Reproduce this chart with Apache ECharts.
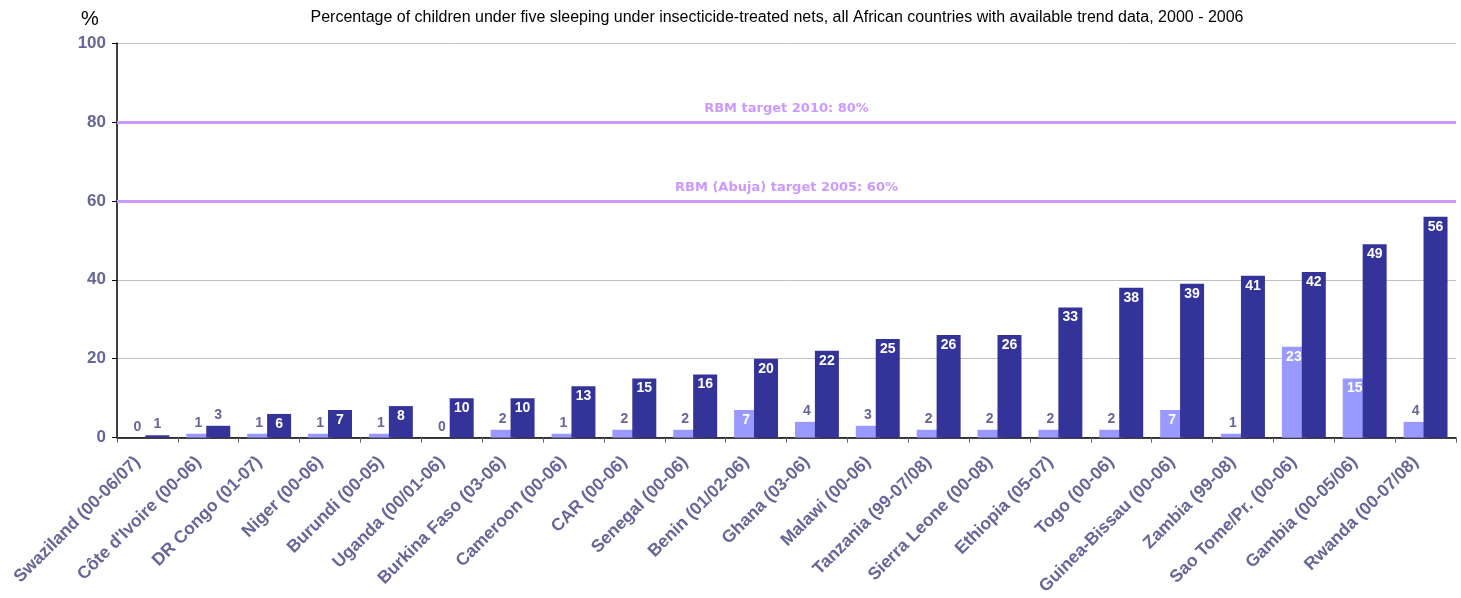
<!DOCTYPE html>
<html><head><meta charset="utf-8">
<script src="https://cdn.jsdelivr.net/npm/echarts@6/dist/echarts.min.js"></script>
<style>html,body{margin:0;padding:0;background:#fff}#c{width:1461px;height:598px}</style>
</head><body><div id="c"></div>
<script>
const categories = ["Swaziland (00-06/07)","Côte d'Ivoire (00-06)","DR Congo (01-07)","Niger (00-06)","Burundi (00-05)","Uganda (00/01-06)","Burkina Faso (03-06)","Cameroon (00-06)","CAR (00-06)","Senegal (00-06)","Benin (01/02-06)","Ghana (03-06)","Malawi (00-06)","Tanzania (99-07/08)","Sierra Leone (00-08)","Ethiopia (05-07)","Togo (00-06)","Guinea-Bissau (00-06)","Zambia (99-08)","Sao Tome/Pr. (00-06)","Gambia (00-05/06)","Rwanda (00-07/08)"];
const earlyValues = [0, 1, 1, 1, 1, 0, 2, 1, 2, 2, 7, 4, 3, 2, 2, 2, 2, 7, 1, 23, 15, 4];
const lateValues  = [0.6, 3, 6, 7, 8, 10, 10, 13, 15, 16, 20, 22, 25, 26, 26, 33, 38, 39, 41, 42, 49, 56];
const targets = [{value: 80, label: "RBM target 2010: 80%"}, {value: 60, label: "RBM (Abuja) target 2005: 60%"}];
const yTicks = [0, 20, 40, 60, 80, 100];

const FONT = "Liberation Sans, Arial, sans-serif";
const SLATE = "#666699";
function labelled(vals, threshold) {
  return vals.map(v => ({
    value: v,
    label: v >= threshold
      ? {position: 'insideTop', color: '#fff', distance: 3}
      : {position: 'top', color: SLATE, distance: 4}
  }));
}
const chart = echarts.init(document.getElementById('c'), null, {renderer: 'canvas'});
chart.setOption({
  animation: false,
  textStyle: {fontFamily: FONT},
  title: [
    {text: 'Percentage of children under five sleeping under insecticide-treated nets, all African countries with available trend data, 2000 - 2006',
     left: 772, top: 5, textAlign: 'center',
     textStyle: {fontSize: 16, fontWeight: 'normal', color: '#000', fontFamily: FONT}},
    {text: '%', left: 76, top: 4, textStyle: {fontSize: 20, fontWeight: 'normal', color: '#000', fontFamily: FONT}}
  ],
  grid: {left: 117, right: 5, top: 43, bottom: 160, containLabel: false},
  xAxis: {
    type: 'category', data: categories,
    axisLine: {lineStyle: {color: '#000', width: 1.5}},
    axisTick: {show: true, length: 5, lineStyle: {color: '#666'}},
    axisLabel: {rotate: 45, interval: 0, color: SLATE, fontWeight: 'bold', fontSize: 17.5, fontFamily: FONT, margin: 12, padding: [0, 14, 0, 0]}
  },
  yAxis: {
    type: 'value', min: yTicks[0], max: yTicks[yTicks.length - 1], interval: 20,
    axisLine: {show: true, lineStyle: {color: '#000', width: 1.5}},
    axisTick: {show: true, length: 5, lineStyle: {color: '#000'}},
    axisLabel: {color: SLATE, fontWeight: 'bold', fontSize: 17, fontFamily: FONT, margin: 11},
    splitLine: {lineStyle: {color: '#c0c0c0', width: 1}}
  },
  series: [
    {type: 'bar', name: 'early', data: labelled(earlyValues, 5), barWidth: 24, barGap: '-17%',
     itemStyle: {color: '#9999ff'},
     label: {show: true, fontWeight: 'bold', fontSize: 14, fontFamily: FONT}},
    {type: 'bar', name: 'late', data: labelled(lateValues, 5), barWidth: 24,
     itemStyle: {color: '#333399'},
     label: {show: true, fontWeight: 'bold', fontSize: 14, fontFamily: FONT, formatter: p => Math.round(p.value)},
     markLine: {
       silent: true, symbol: 'none',
       lineStyle: {color: '#cc99ff', width: 3, type: 'solid'},
       label: {position: 'insideMiddleTop', color: '#cc99ff', fontWeight: 'bold', fontSize: 13, fontFamily: 'DejaVu Sans', distance: 7,
               formatter: p => p.name},
       data: targets.map(t => ({yAxis: t.value, name: t.label}))
     }}
  ]
});
</script></body></html>
